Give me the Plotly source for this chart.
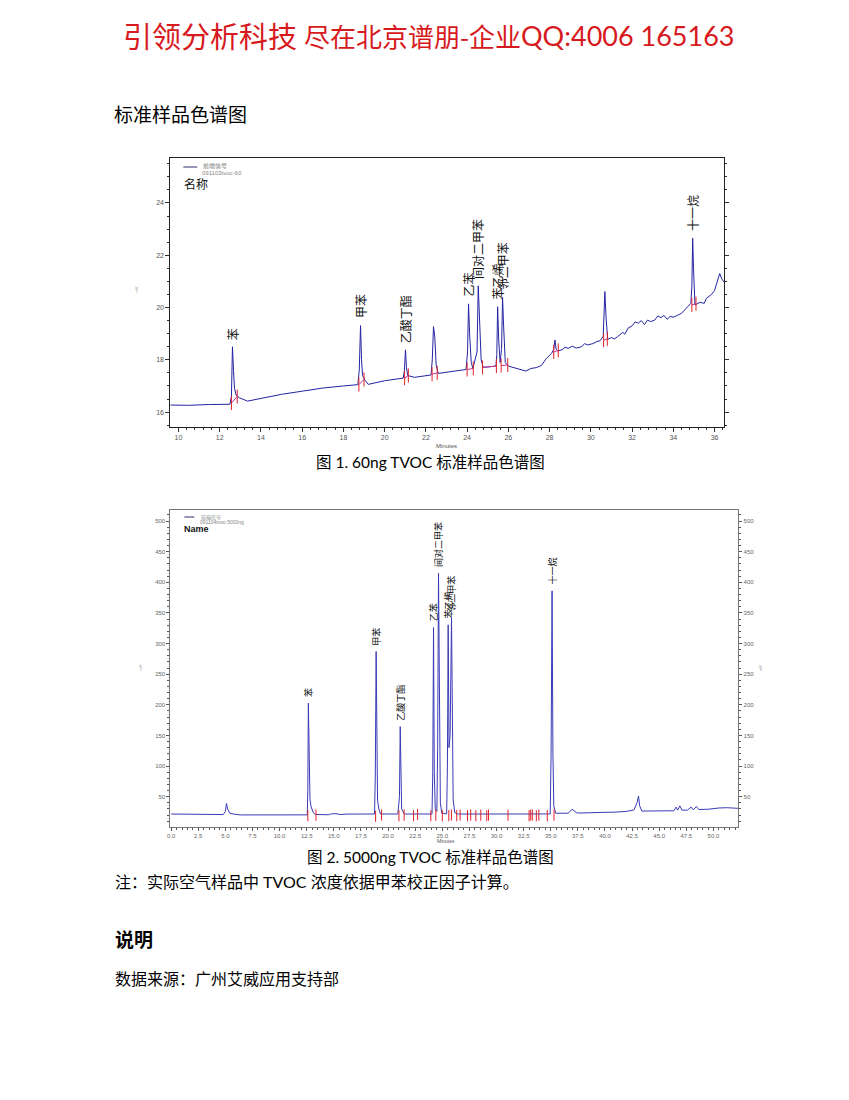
import plotly.graph_objects as go

W, H = 849, 1100
def px(x): return x / W
def py(y): return 1 - y / H

# ---------------- Chart 1 data (60ng TVOC) ----------------
t1 = [9.6, 10.5, 11.5, 12.5,
      12.57, 12.62, 12.67, 12.72, 12.8, 12.95, 13.35,
      14.0, 15.0, 16.0, 17.0, 18.0, 18.7,
      18.77, 18.83, 18.88, 18.93, 19.05, 19.2,
      20.0, 20.9,
      20.96, 21.01, 21.06, 21.12, 21.45,
      22.25,
      22.31, 22.37, 22.43, 22.5, 22.6,
      23.0, 23.5, 23.95,
      24.02, 24.07, 24.12, 24.2, 24.28,
      24.48, 24.54, 24.6, 24.68, 24.78,
      25.1, 25.4,
      25.44, 25.48, 25.53, 25.6,
      25.67, 25.72, 25.77, 25.85, 26.0,
      26.45, 26.85, 27.1, 27.35, 27.6, 27.85, 28.1,
      28.2, 28.26, 28.32, 28.4,
      28.6, 28.75, 28.9, 29.1, 29.3, 29.55, 29.7, 29.85, 30.1, 30.3, 30.45,
      30.6, 30.68, 30.74, 30.82,
      31.0, 31.15, 31.3, 31.55, 31.65, 31.8, 32.0, 32.15, 32.3, 32.45, 32.6, 32.75, 32.9,
      33.1, 33.25, 33.4, 33.55, 33.7, 33.85, 34.0, 34.2, 34.4, 34.6, 34.85,
      34.9, 34.94, 34.98, 35.05,
      35.3, 35.5, 35.6, 35.7, 35.85, 36.0, 36.15, 36.25, 36.35, 36.48]
v1 = [16.27, 16.26, 16.29, 16.30,
      16.6, 18.50, 17.6, 16.9, 16.65, 16.55, 16.42,
      16.52, 16.68, 16.80, 16.92, 17.00, 17.05,
      17.6, 19.31, 18.0, 17.4, 17.22, 17.06,
      17.20, 17.30,
      17.6, 18.38, 17.7, 17.4, 17.33,
      17.42,
      18.0, 19.27, 18.9, 17.8, 17.48,
      17.52, 17.58, 17.63,
      18.3, 20.14, 19.0, 17.9, 17.67,
      18.3, 20.83, 19.8, 18.0, 17.71,
      17.74, 17.76,
      18.2, 20.03, 18.8, 17.9,
      18.4, 20.38, 19.3, 17.9, 17.76,
      17.67, 17.57, 17.67, 17.70, 17.78, 18.06, 18.25,
      18.4, 18.76, 18.4, 18.34,
      18.38, 18.48, 18.44, 18.52, 18.45, 18.50, 18.62, 18.57, 18.62, 18.70, 18.73,
      18.9, 20.61, 19.6, 18.78,
      18.85, 18.80, 18.89, 19.05, 18.98, 19.21, 19.30, 19.45, 19.40, 19.50, 19.35, 19.52, 19.46,
      19.52, 19.68, 19.61, 19.70, 19.55, 19.66, 19.63, 19.70, 19.78, 19.95, 20.16,
      20.8, 22.65, 21.5, 20.10,
      20.20, 20.16, 20.35, 20.40, 20.50, 20.65, 21.00, 21.30, 21.10, 20.95]

names1 = ['苯', '甲苯', '乙酸丁酯', '乙苯', '间对二甲苯', '苯乙烯', '邻二甲苯', '十一烷']
rt1 = [12.62, 18.83, 21.01, 24.07, 24.54, 25.48, 25.72, 34.94]
ht1 = [18.50, 19.31, 18.38, 20.14, 20.83, 20.03, 20.38, 22.65]

# integration start/end marks (pairs)
int1_t = [12.57, 12.85, 18.75, 19.0, 20.97, 21.15, 22.3, 22.55, 24.0, 24.3,
          24.75, 25.42, 25.65, 25.97, 28.2, 28.42, 30.62, 30.8, 34.9, 35.1]
int1_v = [16.35, 16.6, 17.05, 17.25, 17.3, 17.4, 17.45, 17.5, 17.63, 17.67,
          17.71, 17.76, 17.78, 17.8, 18.3, 18.36, 18.75, 18.8, 20.1, 20.15]

# ---------------- Chart 2 data (5000ng TVOC) ----------------
t2 = [0.0, 2.3, 2.5, 4.8, 5.0, 5.1, 5.2, 5.4, 5.8, 6.4, 12.55,
      12.6, 12.65, 12.72, 12.8, 12.9, 13.1, 13.3,
      14.5, 14.8, 15.2, 15.6, 16.2, 18.75,
      18.82, 18.9, 18.96, 19.03, 19.15, 19.3,
      20.9,
      21.05, 21.12, 21.18, 21.25, 21.5,
      24.05,
      24.12, 24.19, 24.26, 24.35, 24.5,
      24.57, 24.65, 24.72, 24.82, 24.95, 25.4,
      25.47, 25.54, 25.62,
      25.72, 25.85, 25.93, 26.0, 26.15, 26.4,
      30.0, 33.0, 34.95,
      35.03, 35.12, 35.2, 35.28, 35.45,
      36.6, 36.98, 37.4, 37.8, 39.0, 40.0, 41.0, 42.0, 42.67,
      42.95, 43.09, 43.2, 43.4,
      44.5, 46.35,
      46.56, 46.7, 46.9, 47.1, 47.6, 47.95, 48.15, 48.43, 48.65, 49.5, 50.5, 51.2, 52.3]
v2 = [21.7, 21.7, 20.5, 20.8, 26.0, 39.0, 30.0, 23.0, 21.5, 20.2, 20.3,
      60.0, 202.6, 90.0, 45.0, 33.7, 24.0, 21.0,
      20.5, 22.0, 22.3, 20.8, 21.6, 21.7,
      80.0, 287.0, 120.0, 44.6, 30.0, 21.7,
      21.7,
      50.0, 164.4, 50.0, 30.0, 21.7,
      21.7,
      90.0, 326.0, 90.0, 30.0, 26.0,
      130.0, 415.0, 180.0, 40.0, 23.0, 22.0,
      100.0, 330.5, 130.0,
      150.0, 341.5, 120.0, 45.0, 24.0, 21.7,
      21.7, 21.7, 21.8,
      120.0, 386.0, 120.0, 35.0, 23.0,
      23.0, 29.4, 23.5, 23.3, 24.5, 24.5, 24.8, 26.0, 28.3,
      40.0, 51.0, 35.0, 26.5,
      26.5, 27.0,
      33.0, 28.0, 35.0, 28.0, 28.0, 33.0, 28.5, 34.0, 29.0, 29.5, 31.5, 32.0, 31.0]

names2 = ['苯', '甲苯', '乙酸丁酯', '乙苯', '间对二甲苯', '苯乙烯', '邻二甲苯', '十一烷']
rt2 = [12.65, 18.9, 21.12, 24.19, 24.65, 25.54, 25.85, 35.12]
ht2 = [202.6, 287.0, 164.4, 326.0, 415.0, 330.5, 341.5, 386.0]

int2_t = [12.6, 13.35, 18.85, 19.4, 21.0, 21.48, 22.35, 22.72, 23.94, 24.4, 25.0,
          25.6, 25.84, 26.33, 26.64, 27.32, 27.62, 28.09, 28.55, 29.1, 29.26,
          31.06, 33.0, 33.15, 33.3, 33.67, 33.9, 34.68, 35.3]
int2_v = [19.0, 20.0, 18.0, 20.0, 19.0, 20.0, 19.0, 21.0, 19.0, 20.0, 19.0,
          19.0, 20.0, 19.0, 20.0, 19.0, 20.0, 19.0, 20.0, 19.0, 20.0,
          20.0, 19.0, 20.0, 20.0, 19.0, 20.0, 19.0, 20.0]

CJK = "'Noto Sans CJK SC', sans-serif"
LAT = "Lato, 'Noto Sans CJK SC', sans-serif"
AX = "'Liberation Sans', Arial, sans-serif"

fig = go.Figure()

# chart 1 traces
fig.add_trace(go.Scatter(x=t1, y=v1, mode='lines', line=dict(color='#2424a4', width=1),
                         xaxis='x', yaxis='y', showlegend=False, hoverinfo='skip'))
bx, by = [], []
for i in range(0, len(int1_t) - 1, 2):
    bx += [int1_t[i], int1_t[i + 1], None]
    by += [int1_v[i], int1_v[i + 1], None]
fig.add_trace(go.Scatter(x=bx, y=by, mode='lines', line=dict(color='#cc3399', width=1),
                         xaxis='x', yaxis='y', showlegend=False, hoverinfo='skip'))
fig.add_trace(go.Scatter(x=int1_t, y=int1_v, mode='markers',
                         marker=dict(symbol='line-ns', size=10, line=dict(color='#e0202a', width=1)),
                         xaxis='x', yaxis='y', showlegend=False, hoverinfo='skip'))

# chart 2 traces
fig.add_trace(go.Scatter(x=t2, y=v2, mode='lines', line=dict(color='#3a3ab8', width=1),
                         xaxis='x2', yaxis='y2', showlegend=False, hoverinfo='skip'))
fig.add_trace(go.Scatter(x=int2_t, y=int2_v, mode='markers',
                         marker=dict(symbol='line-ns', size=8, line=dict(color='#e0202a', width=1)),
                         xaxis='x2', yaxis='y2', showlegend=False, hoverinfo='skip'))
# invisible trace so right axis renders
fig.add_trace(go.Scatter(x=[t2[0]], y=[v2[0]], mode='markers', marker=dict(opacity=0),
                         xaxis='x2', yaxis='y3', showlegend=False, hoverinfo='skip'))

tickfont1 = dict(family=AX, size=7, color='#555')
tickfont2 = dict(family=AX, size=6, color='#666')

fig.update_layout(
    width=W, height=H, margin=dict(l=0, r=0, t=0, b=0),
    paper_bgcolor='white', plot_bgcolor='white',
    xaxis=dict(domain=[px(168), px(724)], anchor='y', range=[9.61, 36.48],
               tick0=10, dtick=2, ticks='outside', ticklen=4, tickcolor='#333',
               tickfont=tickfont1, showgrid=False, zeroline=False,
               showline=True, linecolor='#222', linewidth=1, mirror=True,
               minor=dict(dtick=0.4, ticks='outside', ticklen=2, tickcolor='#333')),
    yaxis=dict(domain=[py(427), py(158)], anchor='x', range=[15.43, 25.72],
               tick0=16, dtick=2, ticks='outside', ticklen=4, tickcolor='#333',
               tickfont=tickfont1, showgrid=False, zeroline=False,
               showline=True, linecolor='#222', linewidth=1, mirror='ticks',
               minor=dict(dtick=0.5, ticks='outside', ticklen=2, tickcolor='#333')),
    xaxis2=dict(domain=[px(168), px(738)], anchor='y2', range=[-0.07, 52.3],
                tick0=0, dtick=2.5, tickformat='.1f', ticks='outside', ticklen=3, tickcolor='#555',
                tickfont=tickfont2, showgrid=False, zeroline=False,
                showline=True, linecolor='#777', linewidth=1, mirror=True,
                minor=dict(dtick=0.5, ticks='outside', ticklen=2, tickcolor='#555')),
    yaxis2=dict(domain=[py(827), py(510)], anchor='x2', range=[0.5, 518],
                tick0=0, dtick=50, ticks='outside', ticklen=3, tickcolor='#555',
                tickfont=tickfont2, showgrid=False, zeroline=False,
                showline=True, linecolor='#777', linewidth=1,
                minor=dict(dtick=10, ticks='outside', ticklen=2, tickcolor='#555')),
    yaxis3=dict(overlaying='y2', anchor='x2', side='right', range=[0.5, 518],
                tick0=0, dtick=50, ticks='outside', ticklen=3, tickcolor='#555',
                tickfont=tickfont2, showgrid=False, zeroline=False,
                showline=True, linecolor='#777', linewidth=1,
                minor=dict(dtick=10, ticks='outside', ticklen=2, tickcolor='#555')),
)

ann = []
# peak labels
for n, t, h in zip(names1, rt1, ht1):
    ann.append(dict(x=t, y=h, xref='x', yref='y', text=n, showarrow=False, textangle=-90,
                    xanchor='center', yanchor='bottom', yshift=5,
                    font=dict(family=CJK, size=12, color='#111')))
for n, t, h in zip(names2, rt2, ht2):
    ann.append(dict(x=t, y=h, xref='x2', yref='y2', text=n, showarrow=False, textangle=-90,
                    xanchor='center', yanchor='bottom', yshift=4,
                    font=dict(family=CJK, size=9, color='#111')))

def txt(x, y, s, size, color='#000', family=CJK, anchor='left', **kw):
    ann.append(dict(x=px(x), y=py(y), xref='paper', yref='paper', text=s, showarrow=False,
                    xanchor=anchor, yanchor='middle', font=dict(family=family, size=size, color=color), **kw))

# page texts
txt(118, 35, '引领分析科技', 29, '#d71920')
txt(300, 35, '尽在北京谱朋-企业', 26, '#d71920')
txt(518, 35, 'QQ:4006 165163', 27, '#d71920', family=LAT)
txt(109, 113, '标准样品色谱图', 19)
txt(429, 462, '图 1. 60ng TVOC 标准样品色谱图', 15.5, family=LAT, anchor='center')
txt(429, 857, '图 2. 5000ng TVOC 标准样品色谱图', 15.5, family=LAT, anchor='center')
txt(110, 882, '注：实际空气样品中 TVOC 浓度依据甲苯校正因子计算。', 16, family=LAT)
txt(110, 938, '<b>说明</b>', 19)
txt(110, 978, '数据来源：广州艾威应用支持部', 16)

# chart legends / axis texts
txt(199, 166, '前端信号', 6, '#888')
txt(198, 173, '091103tvoc-60', 6, '#888', family=AX)
txt(180, 184, '名称', 12, '#111')
txt(445, 446, 'Minutes', 6, '#555', family=AX, anchor='center')
txt(133, 290, 'mV', 4, '#888', family=AX, anchor='center', textangle=-90)

txt(197, 517, '前端信号', 5, '#888')
txt(196, 522, '091104tvoc-5000ng', 5, '#888', family=AX)
txt(180, 529, '<b>Name</b>', 9, '#111', family=AX)
txt(445, 841, 'Minutes', 5, '#555', family=AX, anchor='center')
txt(137, 668, 'mV', 4, '#888', family=AX, anchor='center', textangle=-90)
txt(760, 668, 'mV', 4, '#888', family=AX, anchor='center', textangle=-90)

fig.update_layout(annotations=ann)

fig.add_shape(type='line', xref='paper', yref='paper', x0=px(181), x1=px(195), y0=py(167), y1=py(167),
              line=dict(color='#2a2a70', width=1))
fig.add_shape(type='line', xref='paper', yref='paper', x0=px(182), x1=px(192), y0=py(517), y1=py(517),
              line=dict(color='#2a2a70', width=1))

fig.write_html("out.html")
